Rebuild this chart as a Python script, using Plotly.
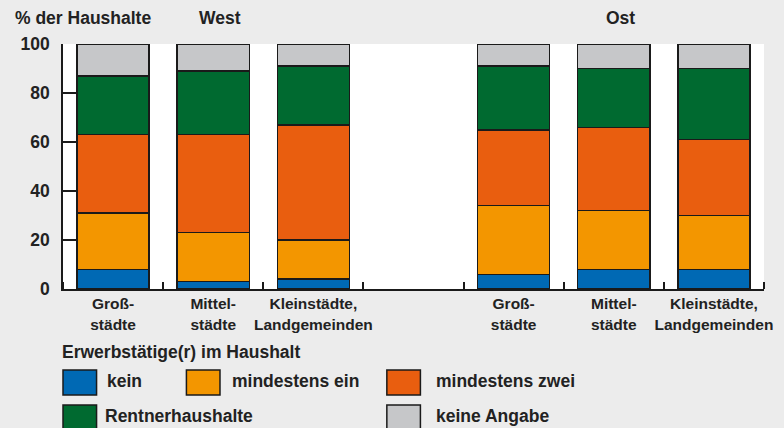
import plotly.graph_objects as go

# ---- data ----
categories = ["Groß-<br>städte", "Mittel-<br>städte", "Kleinstädte,<br>Landgemeinden", "",
              "Groß-<br>städte", "Mittel-<br>städte", "Kleinstädte,<br>Landgemeinden"]
bar_slots = [0, 1, 2, 4, 5, 6]
series_names = ["kein", "mindestens ein", "mindestens zwei", "Rentnerhaushalte", "keine Angabe"]
kein = [8, 3, 4, 6, 8, 8]
mindestens_ein = [23, 20, 16, 28, 24, 22]
mindestens_zwei = [32, 40, 47, 31, 34, 31]
rentner = [24, 26, 24, 26, 24, 29]
keine_angabe = [13, 11, 9, 9, 10, 10]
series_values = [kein, mindestens_ein, mindestens_zwei, rentner, keine_angabe]
region_labels = ["West", "Ost"]
region_slots = [1, 5]

colors = ["#0069b4", "#f39600", "#e95e0f", "#006a30", "#c6c7c9"]
FONT = "Liberation Sans, Arial, sans-serif"
TXT = "#222222"
EDGE = "#1a1a1a"

fig = go.Figure()
for name, vals, col in zip(series_names, series_values, colors):
    fig.add_trace(go.Bar(
        x=bar_slots, y=vals, name=name, width=0.72,
        marker=dict(color=col, line=dict(color=EDGE, width=1.5)),
        showlegend=False,
    ))

W, H = 784, 428
ml, mr, mt, mb = 63, 11, 44, 139
pw, ph = W - ml - mr, H - mt - mb

def px(x):
    return (x - ml) / pw

def py(y):
    return (H - mb - y) / ph

fig.update_layout(
    width=W, height=H,
    margin=dict(l=ml, r=mr, t=mt, b=mb),
    barmode="stack",
    paper_bgcolor="#ececec",
    plot_bgcolor="#ffffff",
    font=dict(family=FONT, color=TXT, size=16),
    xaxis=dict(
        range=[-0.5, 6.5],
        tickmode="array",
        tickvals=list(range(len(categories))),
        ticktext=categories,
        ticks="",
        showline=True, linecolor=EDGE, linewidth=1.5,
        showgrid=False, zeroline=False,
        tickfont=dict(size=15.5, family=FONT, color=TXT, weight="bold"),
        minor=dict(tick0=-0.5, dtick=1, ticks="inside", ticklen=7,
                   tickcolor=EDGE, tickwidth=1.5),
        fixedrange=True,
    ),
    yaxis=dict(
        range=[0, 100],
        tickvals=[0, 20, 40, 60, 80, 100],
        ticks="inside", ticklen=14, tickcolor=EDGE, tickwidth=1.5,
        showline=True, linecolor=EDGE, linewidth=1.5,
        showgrid=False, zeroline=False,
        tickfont=dict(size=17.5, family=FONT, color=TXT, weight="bold"),
        ticklabelstandoff=8,
        fixedrange=True,
    ),
)

annotations = []
shapes = []
# axis title
annotations.append(dict(text="% der Haushalte", xref="paper", yref="paper",
                        x=px(12), y=py(18), xanchor="left", yanchor="middle",
                        showarrow=False, font=dict(size=17.5, weight="bold")))
# region labels
for lab, slot in zip(region_labels, region_slots):
    annotations.append(dict(text=lab, xref="x", yref="paper", x=slot + 0.07, y=py(18),
                            xanchor="center", yanchor="middle", showarrow=False,
                            font=dict(size=17.5, weight="bold")))
# legend title
annotations.append(dict(text="Erwerbstätige(r) im Haushalt", xref="paper", yref="paper",
                        x=px(60), y=py(352), xanchor="left", yanchor="middle",
                        showarrow=False, font=dict(size=17.5, weight="bold")))
# legend items (square left x, text left x, row centre y)
legend_pos = [(63, 106, 381), (188, 232, 381), (391, 439, 381),
              (63, 104, 416), (391, 439, 416)]
for name, col, (sx, tx, cy) in zip(series_names, colors, legend_pos):
    shapes.append(dict(type="rect", xref="paper", yref="paper",
                       x0=px(sx), x1=px(sx + 34), y0=py(cy - 11), y1=py(cy + 14),
                       fillcolor=col, line=dict(color=EDGE, width=1.5)))
    annotations.append(dict(text=name, xref="paper", yref="paper",
                            x=px(tx), y=py(cy), xanchor="left", yanchor="middle",
                            showarrow=False, font=dict(size=17.5, weight="bold")))

fig.update_layout(annotations=annotations, shapes=shapes)
fig.write_html(
    "out.html",
    config={"displayModeBar": False},
    post_script="document.body.style.margin='0';document.body.style.background='#ececec';document.body.style.overflow='hidden';",
)
